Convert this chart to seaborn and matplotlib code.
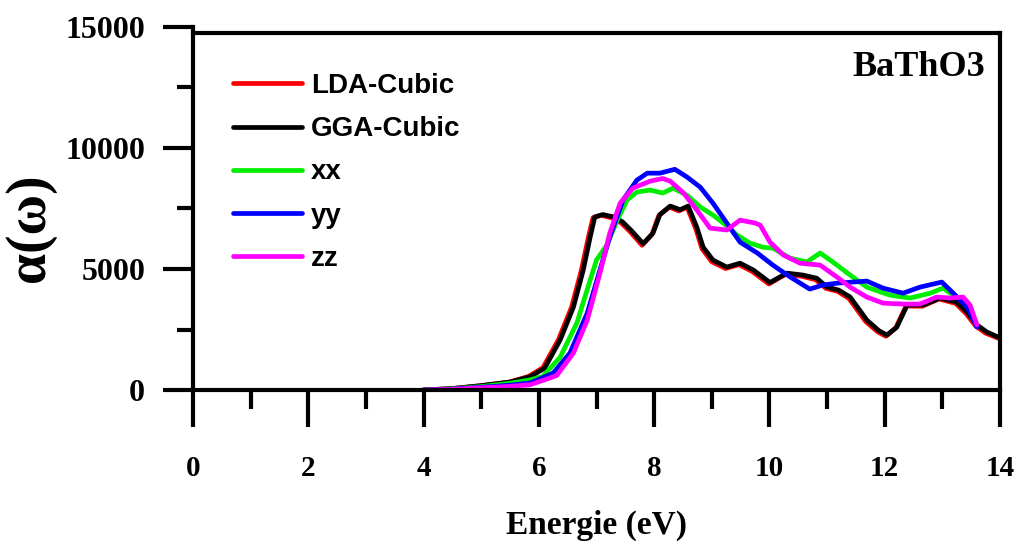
import numpy as np
import pandas as pd
import matplotlib
matplotlib.use("Agg")
import matplotlib.pyplot as plt
import seaborn as sns

# Absorption coefficient alpha(omega) of BaThO3 versus photon energy (eV)
lda_x = [4.0, 4.5, 5.0, 5.5, 5.82, 6.07, 6.34, 6.57, 6.74, 6.86, 6.94, 7.08, 7.28, 7.43,
         7.58, 7.79, 7.96, 8.08, 8.26, 8.43, 8.57, 8.72, 8.83, 9.0, 9.24, 9.47, 9.7, 9.99,
         10.28, 10.56, 10.8, 10.98, 11.18, 11.38, 11.67, 11.88, 12.02, 12.19, 12.37, 12.65,
         12.94, 13.23, 13.41, 13.58, 13.75, 14.0]
lda_y = [0, 60, 180, 330, 560, 920, 2080, 3440, 4970, 6320, 7120, 7220, 7100, 6900,
         6550, 5980, 6420, 7200, 7560, 7400, 7560, 6680, 5840, 5300, 5020, 5180, 4900, 4380,
         4780, 4700, 4560, 4200, 4080, 3780, 2830, 2400, 2220, 2560, 3470, 3460,
         3760, 3580, 3160, 2640, 2350, 2110]

gga_x = [4.0, 4.5, 5.0, 5.5, 5.85, 6.1, 6.37, 6.6, 6.77, 6.89, 6.97, 7.11, 7.3, 7.45,
         7.6, 7.81, 7.98, 8.1, 8.28, 8.45, 8.59, 8.74, 8.85, 9.02, 9.26, 9.49, 9.72, 10.01,
         10.3, 10.58, 10.82, 11.0, 11.2, 11.4, 11.69, 11.9, 12.04, 12.21, 12.39, 12.67,
         12.96, 13.25, 13.43, 13.6, 13.77, 14.0]
gga_y = [0, 60, 180, 330, 550, 900, 2070, 3430, 4960, 6320, 7150, 7250, 7150, 6950,
         6600, 6050, 6480, 7250, 7600, 7450, 7600, 6730, 5900, 5370, 5080, 5240, 4960, 4440,
         4830, 4750, 4620, 4250, 4130, 3840, 2890, 2450, 2270, 2600, 3510, 3510,
         3800, 3630, 3220, 2690, 2400, 2150]

xx_x = [4.0, 4.5, 5.0, 5.5, 5.85, 6.07, 6.37, 6.66, 6.89, 7.0, 7.18, 7.36, 7.53, 7.7,
        7.93, 8.15, 8.33, 8.57, 8.8, 9.02, 9.2, 9.44, 9.66, 9.89, 10.06, 10.36, 10.65,
        10.88, 11.1, 11.4, 11.69, 12.09, 12.44, 12.79, 13.01, 13.19, 13.43, 13.6]
xx_y = [0, 50, 140, 280, 420, 560, 1360, 2770, 4540, 5370, 5990, 7020, 7850, 8180,
        8260, 8140, 8340, 8050, 7560, 7230, 6900, 6400, 6070, 5900, 5860, 5450, 5290,
        5660, 5290, 4750, 4250, 3920, 3800, 4000, 4210, 3920, 3630, 2690]

yy_x = [4.0, 4.5, 5.0, 5.5, 5.85, 6.25, 6.54, 6.84, 7.06, 7.23, 7.46, 7.7, 7.88, 8.1,
        8.36, 8.57, 8.8, 9.02, 9.26, 9.49, 9.79, 10.06, 10.36, 10.7, 10.93, 11.2, 11.69,
        11.97, 12.32, 12.61, 12.99, 13.19, 13.43, 13.6]
yy_y = [0, 40, 110, 200, 290, 700, 1530, 3180, 4960, 6320, 7850, 8670, 8960, 8960,
        9120, 8800, 8380, 7720, 6900, 6110, 5660, 5160, 4670, 4170, 4340, 4420, 4500,
        4210, 4000, 4250, 4460, 4000, 3430, 2600]

zz_x = [4.0, 4.5, 5.0, 5.5, 5.85, 6.1, 6.31, 6.6, 6.84, 7.06, 7.23, 7.41, 7.63, 7.93,
        8.15, 8.28, 8.51, 8.74, 8.97, 9.26, 9.49, 9.75, 9.84, 10.01, 10.24, 10.53, 10.88,
        11.17, 11.4, 11.69, 11.97, 12.32, 12.61, 12.9, 13.13, 13.36, 13.48, 13.6]
zz_y = [0, 30, 90, 150, 220, 420, 600, 1530, 2890, 4830, 6480, 7720, 8340, 8630,
        8740, 8630, 8140, 7440, 6690, 6610, 7020, 6900, 6810, 6110, 5580, 5240, 5160,
        4670, 4250, 3840, 3590, 3550, 3550, 3840, 3800, 3840, 3510, 2690]

series_names = ["LDA-Cubic", "GGA-Cubic", "xx", "yy", "zz"]
series_colors = ["#ff0000", "#000000", "#00ee00", "#0000ff", "#ff00ff"]
series_data = [(lda_x, lda_y), (gga_x, gga_y), (xx_x, xx_y), (yy_x, yy_y), (zz_x, zz_y)]

x_ticks = [0, 2, 4, 6, 8, 10, 12, 14]
y_ticks = [0, 5000, 10000, 15000]

frames = []
for name, (xs, ys) in zip(series_names, series_data):
    frames.append(pd.DataFrame({"E": xs, "alpha": ys, "series": name}))
df = pd.concat(frames, ignore_index=True)

sns.set_theme(style="ticks")
plt.rcParams["font.family"] = ["Liberation Serif", "DejaVu Serif"]
plt.rcParams["text.color"] = "black"

fig = plt.figure(figsize=(10.19, 5.48), dpi=100)
ax = fig.add_axes([193 / 1019, 1 - 390 / 548, (1000 - 193) / 1019, (390 - 27) / 548])

sns.lineplot(data=df, x="E", y="alpha", hue="series", hue_order=series_names,
             palette=series_colors, estimator=None, sort=False, linewidth=3.4,
             ax=ax, legend=True)

ax.set_xlim(0, 14)
ax.set_ylim(0, 15000)

# frame: the top edge sits a little below the 15000 tick
for side in ["left", "right", "top", "bottom"]:
    ax.spines[side].set_visible(True)
    ax.spines[side].set_linewidth(3)
    ax.spines[side].set_color("black")
ax.spines["top"].set_position(("data", 14740))
ax.spines["right"].set_bounds(0, 14740)

ax.set_xticks(x_ticks)
ax.set_xticks([1, 3, 5, 7, 9, 11, 13], minor=True)
ax.set_yticks(y_ticks)
ax.set_yticks([2500, 7500, 12500], minor=True)

ax.tick_params(axis="x", which="major", direction="out", length=26.5, width=3,
               pad=20, labelsize=21, color="black", labelcolor="black")
ax.tick_params(axis="x", which="minor", direction="out", length=14, width=3, color="black")
ax.tick_params(axis="y", which="major", direction="out", length=21.5, width=3,
               pad=13, labelsize=23, color="black", labelcolor="black")
ax.tick_params(axis="y", which="minor", direction="out", length=11.5, width=3, color="black")

ax.set_xticklabels([str(v) for v in x_ticks], fontweight="bold", color="black", fontsize=21)
ax.set_yticklabels([str(v) for v in y_ticks], fontweight="bold", color="black", fontsize=23)

ax.set_xlabel("")
ax.set_ylabel("")
fig.text(596 / 1019, 1 - 525 / 548, "Energie (eV)", ha="center", va="center",
         fontsize=24, fontweight="bold", color="black")
fig.text(30 / 1019, 1 - 228 / 548, "α(ω)", ha="center", va="center", rotation=90,
         fontsize=40, fontweight="bold", color="black")
fig.text(985 / 1019, 1 - 68 / 548, "BaThO3", ha="right", va="center",
         fontsize=26, fontweight="bold", color="black")

leg = ax.legend(loc="upper left", bbox_to_anchor=(40 / 807, 1 - 46 / 363), frameon=False,
                handlelength=2.5, handletextpad=0.3, labelspacing=0.62, borderpad=0,
                borderaxespad=0, prop={"family": "Liberation Sans", "weight": "bold", "size": 20})
for line in leg.get_lines():
    line.set_linewidth(3.4)
for txt in leg.get_texts():
    txt.set_color("black")

fig.savefig("out.png", dpi=100, facecolor="white")
